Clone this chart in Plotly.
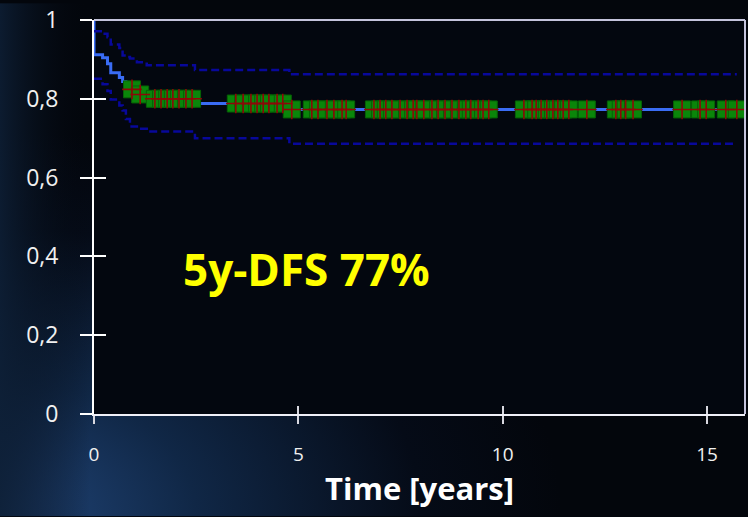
import base64
import plotly.graph_objects as go

# ---- data ----
step_times = [0, 0.21, 0.33, 0.41, 0.62, 0.70, 0.78, 0.88, 1.05, 1.29, 2.47, 4.78]
km_surv    = [0.912, 0.904, 0.889, 0.866, 0.854, 0.844, 0.834, 0.824, 0.811, 0.800, 0.788, 0.773]
ci_upper   = [0.9715, 0.965, 0.956, 0.938, 0.929, 0.910, 0.906, 0.902, 0.893, 0.885, 0.873, 0.862]
ci_lower   = [0.851, 0.837, 0.820, 0.798, 0.783, 0.770, 0.749, 0.730, 0.724, 0.717, 0.700, 0.686]
km_end = 15.85
ci_end = 15.73

censor_times = [0.93, 1.13,
                1.49, 1.64, 1.79, 1.93, 2.08, 2.25, 2.40,
                3.47, 3.65, 3.84, 3.99, 4.14, 4.28, 4.48, 4.62,
                4.84, 5.33, 5.48, 5.70, 5.87, 6.07, 6.17,
                6.85, 7.00, 7.14, 7.29, 7.49, 7.66, 7.81, 7.90, 8.07,
                8.27, 8.42, 8.59, 8.76, 8.93, 9.10, 9.22, 9.40, 9.52, 9.66,
                10.52, 10.72, 10.82, 10.94, 11.08, 11.23, 11.35, 11.48, 11.62,
                12.06, 12.77, 12.89, 13.01, 13.19,
                14.39, 14.83, 14.98, 15.46, 15.73]

y_tickvals = [0, 0.2, 0.4, 0.6, 0.8, 1]
y_ticktext = ["0", "0,2", "0,4", "0,6", "0,8", "1"]
x_tickvals = [0, 5, 10, 15]
x_ticktext = ["0", "5", "10", "15"]
x_title = "Time [years]"
note_text = "5y-DFS 77%"


def surv_at(t, times, vals):
    v = vals[0]
    for ti, vi in zip(times, vals):
        if ti <= t:
            v = vi
    return v


censor_y = [surv_at(t, step_times, km_surv) for t in censor_times]

fig = go.Figure()

# KM curve (starts at 1)
fig.add_trace(go.Scatter(
    x=[0] + step_times + [km_end], y=[1.0] + km_surv + [km_surv[-1]],
    mode="lines", line=dict(color="#3a6cf4", width=3, shape="hv"),
    hoverinfo="skip", showlegend=False))

# confidence bands
for band in (ci_upper, ci_lower):
    fig.add_trace(go.Scatter(
        x=step_times + [ci_end], y=band + [band[-1]],
        mode="lines", line=dict(color="#08089a", width=2.5, shape="hv", dash="8px,4px"),
        hoverinfo="skip", showlegend=False))

# censor marks: green squares with red crosses
fig.add_trace(go.Scatter(
    x=censor_times, y=censor_y, mode="markers",
    marker=dict(symbol="square", size=17, color="#0a860a",
                line=dict(color="#066206", width=1)),
    hoverinfo="skip", showlegend=False))
fig.add_trace(go.Scatter(
    x=censor_times, y=censor_y, mode="markers",
    marker=dict(symbol="cross-thin", size=14,
                line=dict(color="#8c0808", width=1.6)),
    hoverinfo="skip", showlegend=False))

# invisible trace for overlay axes (inner tick halves)
fig.add_trace(go.Scatter(x=[0], y=[0], xaxis="x2", yaxis="y2", mode="markers",
                         marker=dict(opacity=0), hoverinfo="skip", showlegend=False))

fig.add_annotation(x=5.21, y=0.368, text=f"<b>{note_text}</b>", showarrow=False,
                   font=dict(family="Open Sans", size=44, color="#ffff00"))

# background gradient image
svg = ('<svg xmlns="http://www.w3.org/2000/svg" width="748" height="517" preserveAspectRatio="none">'
       '<defs><radialGradient id="g" cx="0" cy="1" r="0.75" fx="0" fy="1">'
       '<stop offset="0" stop-color="#21467a"/>'
       '<stop offset="0.35" stop-color="#102746"/>'
       '<stop offset="0.75" stop-color="#050b17"/>'
       '<stop offset="1" stop-color="#03060c"/>'
       '</radialGradient>'
       '<linearGradient id="h" x1="0" y1="0" x2="1" y2="0">'
       '<stop offset="0" stop-color="#0d1e34" stop-opacity="0.9"/>'
       '<stop offset="0.12" stop-color="#03060c" stop-opacity="0"/>'
       '</linearGradient></defs>'
       '<rect width="748" height="517" fill="#03060c"/>'
       '<rect width="748" height="517" fill="url(#g)"/>'
       '<rect width="748" height="517" fill="url(#h)"/>'
       '</svg>')
src = "data:image/svg+xml;base64," + base64.b64encode(svg.encode()).decode()

L, R, T, B = 94, 3, 17, 103
W, H = 748, 517
pw, ph = W - L - R, H - T - B

fig.add_layout_image(dict(source=src, xref="paper", yref="paper",
                          x=-L / pw, y=1 + T / ph, sizex=W / pw, sizey=H / ph,
                          xanchor="left", yanchor="top", sizing="stretch", layer="below"))

fig.add_shape(type="rect", xref="paper", yref="paper", x0=0, x1=1, y0=0, y1=1,
              fillcolor="#03070f", line=dict(width=0), layer="below")
fig.add_shape(type="line", xref="paper", yref="paper", x0=0, x1=1, y0=1, y1=1,
              line=dict(color="#c4c4dc", width=2), layer="above")
fig.add_shape(type="line", xref="paper", yref="paper", x0=1, x1=1, y0=0, y1=1,
              line=dict(color="#c4c4dc", width=2), layer="above")

font_family = "Open Sans"
xr = [0, 15.93]
yr = [0, 1]

fig.update_layout(
    width=W, height=H,
    margin=dict(l=L, r=R, t=T, b=B),
    paper_bgcolor="#03060c", plot_bgcolor="rgba(0,0,0,0)",
    xaxis=dict(range=xr, tickvals=x_tickvals, ticktext=x_ticktext,
               showgrid=False, zeroline=False, showline=True, linecolor="#f0f0f8", linewidth=2,
               ticks="outside", ticklen=8, tickwidth=1.5, tickcolor="#d8d8e0",
               ticklabelstandoff=14,
               tickfont=dict(family=font_family, size=19, color="#f0f0f0"),
               title=dict(text=x_title, standoff=6,
                          font=dict(family=font_family, size=31, color="#ffffff", weight="bold"))),
    yaxis=dict(range=yr, tickvals=y_tickvals, ticktext=y_ticktext,
               showgrid=False, zeroline=False, showline=True, linecolor="#ffffff", linewidth=2,
               ticks="outside", ticklen=12, tickwidth=1.5, tickcolor="#ffffff",
               ticklabelstandoff=17,
               tickfont=dict(family=font_family, size=23, color="#f0f0f0")),
    xaxis2=dict(range=xr, overlaying="x", anchor="y", side="bottom", tickvals=x_tickvals,
                showticklabels=False, showgrid=False, zeroline=False, showline=False,
                ticks="inside", ticklen=8, tickwidth=1.5, tickcolor="#d8d8e0"),
    yaxis2=dict(range=yr, overlaying="y", anchor="x", side="left", tickvals=y_tickvals,
                showticklabels=False, showgrid=False, zeroline=False, showline=False,
                ticks="inside", ticklen=12, tickwidth=1.5, tickcolor="#ffffff"),
)

fig.write_html("out.html", config={"displayModeBar": False},
               post_script="document.body.style.margin='0';document.body.style.background='#03060c';")
